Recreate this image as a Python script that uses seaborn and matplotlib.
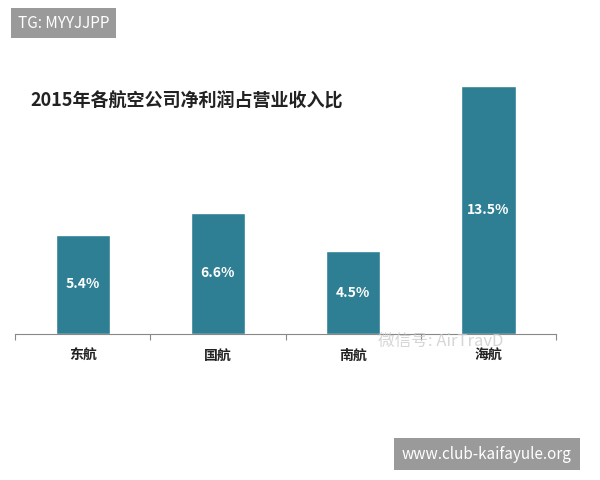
import matplotlib
matplotlib.use("Agg")
import matplotlib.pyplot as plt
import seaborn as sns
import pandas as pd

categories = ["东航", "国航", "南航", "海航"]
values = [5.4, 6.6, 4.5, 13.5]
labels = ["5.4%", "6.6%", "4.5%", "13.5%"]
title = "2015年各航空公司净利润占营业收入比"

sns.set_style("white")
plt.rcParams['font.family'] = ['Noto Sans CJK SC', 'DejaVu Sans']

df = pd.DataFrame({"cat": categories, "val": values})
fig = plt.figure(figsize=(6, 4.8), dpi=100)
ax = fig.add_axes([0.025, 0.304, 0.902, 0.575])
sns.barplot(data=df, x="cat", y="val", color="#2F7F94", width=0.4, ax=ax, saturation=1)
ax.set_xlim(-0.5, 3.5)
ax.set_ylim(0, 15)
for i, (v, l) in enumerate(zip(values, labels)):
    ax.text(i, v / 2, l, ha="center", va="center", color="white", fontsize=10, fontweight="bold")
for s in ["top", "right", "left"]:
    ax.spines[s].set_visible(False)
ax.spines["bottom"].set_color("#888888")
ax.set_yticks([])
ax.set_xticks([-0.5, 0.5, 1.5, 2.5, 3.5], minor=False)
ax.set_xticklabels([])
ax.tick_params(axis="x", length=4, color="#888888", bottom=True, direction="out")
for i, c in enumerate(categories):
    ax.text(i, -1.2, c, ha="center", va="center", fontsize=10, fontweight="bold", color="#222222")
ax.set_xlabel("")
ax.set_ylabel("")

fig.text(0.05, 0.79, title, fontsize=13, fontweight="bold", color="#222222", va="center")
fig.text(0.63, 0.288, "微信号: AirTravD", fontsize=12, color="#cccccc", va="center", alpha=0.8)
fig.text(0.03, 0.952, "TG: MYYJJPP", fontsize=11, color="white", va="center",
         bbox=dict(facecolor="#9a9a9a", edgecolor="none", boxstyle="square,pad=0.45"))
fig.text(0.67, 0.054, "www.club-kaifayule.org", fontsize=11, color="white", va="center",
         bbox=dict(facecolor="#9a9a9a", edgecolor="none", boxstyle="square,pad=0.5"))
fig.savefig("out.png", dpi=100)
